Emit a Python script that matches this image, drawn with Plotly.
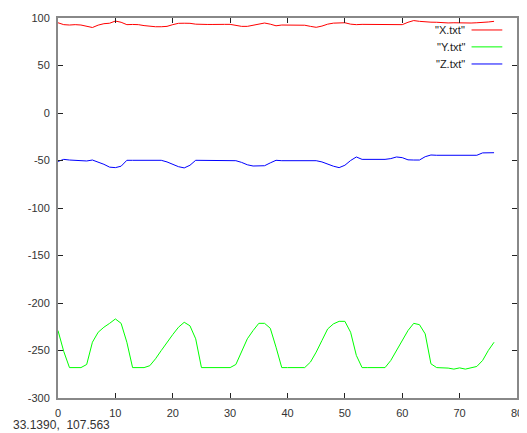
import plotly.graph_objects as go

x_vals = list(range(77))

x_txt = [95, 93, 92.6, 93, 92.6, 91.5, 90, 92.5, 94, 94.5,
         96.8, 95.5, 93, 93.2, 93, 92, 91, 90.8, 90.8, 91.2,
         93, 94.4, 94.5, 94.4, 93.5, 93, 93.2, 93.2, 93.5, 93.3,
         93.3, 92.2, 91.2, 91.2, 92.5, 94.2, 94.7, 93.5, 91.8, 92.6,
         92.6, 92.6, 92.6, 92.4, 91.2, 90.2, 91.5, 93.5, 94.6, 95.1,
         95, 93.5, 93, 93.3, 93.3, 93.3, 93.3, 93.3, 92.6, 92.6,
         93, 95.5, 97.3, 96.5, 95.8, 95.6, 95.5, 95, 94.8, 95,
         94.8, 95, 94.7, 95, 95.2, 95.8, 96.5]

y_txt = [-229, -251, -268, -268, -268, -264.7, -241.3, -230.8, -225.5, -221.4,
         -216.8, -221.4, -241.3, -268, -268, -268, -266, -258.7, -250, -241.3,
         -233.2, -225.5, -220.3, -224, -237.7, -268, -268, -268, -268, -268,
         -268, -264.7, -251.7, -237.7, -229, -221.4, -221.4, -226.6, -246.5, -268,
         -268, -268, -268, -268, -262.2, -251.7, -239.5, -227.3, -222, -219.3,
         -219.3, -230.8, -255.2, -268, -268, -268, -268, -268, -260.5, -250,
         -239.5, -229, -221.4, -222.8, -232.5, -264, -268, -268, -268.5, -269.6,
         -268.3, -269.6, -268, -266.8, -260.5, -250, -241.3]

z_txt = [-51, -48.8, -49.5, -49.8, -49.8, -50.5, -49.5, -51.5, -54, -57,
         -57.5, -56, -49.8, -49.8, -49.8, -49.8, -49.8, -49.8, -49.8, -51.5,
         -54, -56.5, -57.8, -55, -49.8, -49.8, -49.8, -49.8, -49.8, -49.8,
         -50, -50.2, -52, -54.5, -55.8, -55.8, -55.5, -52.5, -49.8, -50.2,
         -50.2, -50.2, -50.2, -50.2, -50.2, -50.2, -51.5, -54, -56, -57.5,
         -55, -50, -46.3, -48.8, -48.8, -48.8, -48.8, -48.8, -48, -46.3,
         -47, -49.3, -49.5, -49.5, -46, -44.2, -44.5, -44.5, -44.5, -44.5,
         -44.5, -44.5, -44.5, -44.5, -42, -41.8, -41.8]

series_names = ['"X.txt"', '"Y.txt"', '"Z.txt"']
series_colors = ["#ff0000", "#00ff00", "#0000ff"]
series_values = [x_txt, y_txt, z_txt]

x_ticks = [0, 10, 20, 30, 40, 50, 60, 70, 80]
y_ticks = [100, 50, 0, -50, -100, -150, -200, -250, -300]
status_text = "33.1390,  107.563"

fig = go.Figure()
for name, color, vals in zip(series_names, series_colors, series_values):
    fig.add_trace(go.Scatter(x=x_vals, y=vals, mode="lines", name=name,
                             line=dict(color=color, width=1), showlegend=False))

# custom gnuplot-style legend: text on the left, line sample on the right
legend_y = [0.9685, 0.924, 0.879]
for name, color, ly in zip(series_names, series_colors, legend_y):
    fig.add_annotation(xref="paper", yref="paper", x=0.892, y=ly, text=name,
                       showarrow=False, xanchor="right", yanchor="middle",
                       font=dict(family="Liberation Sans", size=11, color="#222222"))
    fig.add_shape(type="line", xref="paper", yref="paper", x0=0.901, x1=0.968,
                  y0=ly, y1=ly, line=dict(color=color, width=1))

fig.add_annotation(xref="paper", yref="paper", x=-0.103, y=-0.071, text=status_text,
                   showarrow=False, xanchor="left", yanchor="middle",
                   font=dict(family="Liberation Sans", size=12, color="#333333"))

axis_common = dict(showgrid=False, zeroline=False, showline=True, linecolor="#888888",
                   linewidth=2, mirror="ticks", ticks="inside", ticklen=5,
                   tickcolor="#222222", tickwidth=1, ticklabelstandoff=4,
                   ticklabeloverflow="allow",
                   tickfont=dict(family="Liberation Sans", size=11, color="#333333"))

fig.update_xaxes(range=[0, 80], tickvals=x_ticks, ticktext=[str(t) for t in x_ticks],
                 **axis_common)
fig.update_yaxes(range=[-300, 100], tickvals=y_ticks, ticktext=[str(t) for t in y_ticks],
                 **axis_common)

# the page body has an 8px margin, so the figure is shrunk by 8px to fit the window
fig.update_layout(width=519, height=425, margin=dict(l=50, r=4, t=9, b=35),
                  plot_bgcolor="white", paper_bgcolor="white", showlegend=False)

fig.write_html("out.html")
